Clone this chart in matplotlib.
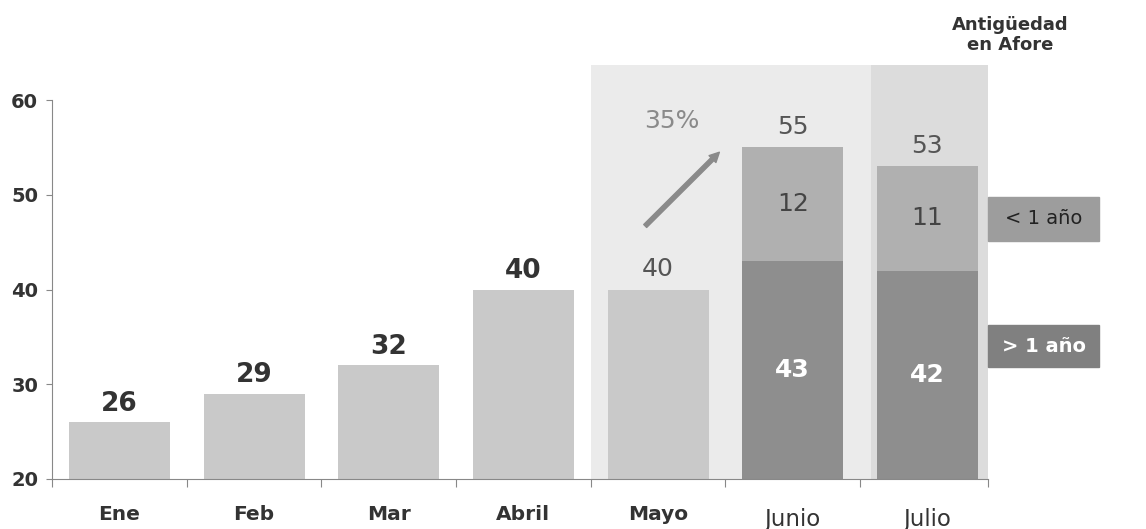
import matplotlib
matplotlib.use("Agg")
import matplotlib.pyplot as plt
from matplotlib.patches import Rectangle
import numpy as np

# data
months = ["Ene", "Feb", "Mar", "Abril", "Mayo", "Junio", "Julio"]
totals = [26, 29, 32, 40, 40, 55, 53]
mas_1_anio = [43, 42]      # Junio, Julio: > 1 año
menos_1_anio = [12, 11]    # Junio, Julio: < 1 año
growth_label = "35%"

plt.rcParams['font.family'] = ['DejaVu Sans']

fig = plt.figure(figsize=(11.46, 5.29), dpi=100)
ax = fig.add_axes([52 / 1146, 1 - 479 / 529, (988 - 52) / 1146, (479 - 65) / 529])

x = np.arange(len(months))
w = 0.75

# shaded backgrounds
ax.axvspan(3.5, 5.58, color="#ebebeb", zorder=0, lw=0)
ax.axvspan(5.58, 6.45, color="#dcdcdc", zorder=0, lw=0)

# simple bars Ene..Mayo
ax.bar(x[:5], totals[:5], width=w, color="#c9c9c9", zorder=2)
# stacked Junio/Julio
ax.bar(x[5:], mas_1_anio, width=w, color="#8e8e8e", zorder=2)
ax.bar(x[5:], menos_1_anio, bottom=mas_1_anio, width=w, color="#b0b0b0", zorder=2)

ax.set_ylim(20, 63.7)
ax.set_xlim(-0.48, 6.45)

# value labels
for i in range(4):
    ax.annotate(str(totals[i]), (x[i], totals[i]), xytext=(0, 4), textcoords="offset points",
                ha="center", va="bottom", fontsize=19, fontweight="bold", color="#333333")
for i in range(4, 7):
    ax.annotate(str(totals[i]), (x[i], totals[i]), xytext=(0, 6), textcoords="offset points",
                ha="center", va="bottom", fontsize=18, color="#555555")
for j in range(2):
    ax.text(x[5 + j], 20 + (mas_1_anio[j] - 20) / 2, str(mas_1_anio[j]), ha="center", va="center",
            fontsize=18, fontweight="bold", color="white")
    ax.text(x[5 + j], mas_1_anio[j] + menos_1_anio[j] / 2, str(menos_1_anio[j]), ha="center",
            va="center", fontsize=18, color="#444444")

# growth arrow
ax.annotate("", xy=(4.47, 54.7), xytext=(3.89, 46.5),
            arrowprops=dict(arrowstyle="simple,head_width=0.7,head_length=0.7,tail_width=0.3",
                            color="#8a8a8a"), zorder=3)
ax.text(4.1, 57.8, growth_label, ha="center", va="center", fontsize=18, color="#8a8a8a")

# axes styling
for s in ["top", "right"]:
    ax.spines[s].set_visible(False)
ax.spines["left"].set_bounds(20, 60)
ax.spines["left"].set_color("#888888")
ax.spines["bottom"].set_color("#888888")
ax.set_yticks([20, 30, 40, 50, 60])
ax.set_yticklabels(["20", "30", "40", "50", "60"], fontsize=14, fontweight="bold", color="#333333")
ax.tick_params(axis="y", length=4, color="#888888", pad=6)

ax.set_xticks(np.append(x - 0.5, 6.45))
ax.set_xticklabels([])
ax.tick_params(axis="x", length=6, direction="out", color="#888888")
for i, m in enumerate(months):
    if i < 5:
        ax.text(x[i], 16.2, m, ha="center", va="center", fontsize=14.5,
                fontweight="bold", color="#333333", clip_on=False)
    else:
        ax.text(x[i], 15.7, m, ha="center", va="center", fontsize=16.5, color="#333333",
                clip_on=False)

# legend-like boxes
fig.patches.append(Rectangle((988 / 1146, 1 - 241 / 529), 111 / 1146, 44 / 529,
                             transform=fig.transFigure, color="#9d9d9d", zorder=1))
fig.text((988 + 55.5) / 1146, 1 - 219 / 529, "< 1 año", ha="center", va="center",
         fontsize=14, color="#222222")
fig.patches.append(Rectangle((988 / 1146, 1 - 367 / 529), 111 / 1146, 42 / 529,
                             transform=fig.transFigure, color="#808080", zorder=1))
fig.text((988 + 55.5) / 1146, 1 - 346 / 529, "> 1 año", ha="center", va="center",
         fontsize=14, fontweight="bold", color="white")

fig.text(1010 / 1146, 1 - 35 / 529, "Antigüedad\nen Afore", ha="center", va="center",
         fontsize=13, fontweight="bold", color="#333333", linespacing=1.15)

fig.savefig("out.png", dpi=100)
